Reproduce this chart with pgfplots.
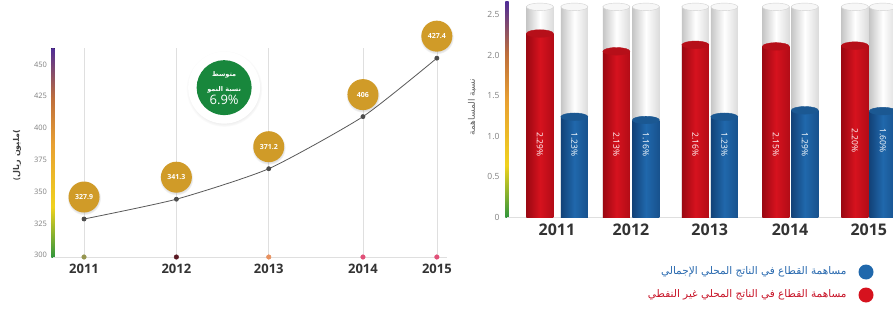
\documentclass[border=0pt]{standalone}
\usepackage{pgfplots}
\pgfplotsset{compat=1.18}
\usepackage{fontspec}
\setmainfont{Open Sans}
\newfontfamily\arabicfont[Script=Arabic]{DejaVu Sans}
\TeXXeTstate=1
\usetikzlibrary{shadows}
\definecolor{gold}{RGB}{208,155,40}
\definecolor{ggreen}{RGB}{24,135,60}
\definecolor{redmain}{RGB}{214,18,30}
\definecolor{reddark}{RGB}{155,8,18}
\definecolor{bluemain}{RGB}{32,104,172}
\definecolor{bluedark}{RGB}{18,66,120}
\definecolor{cgreen}{RGB}{50,150,60}
\definecolor{cyellow}{RGB}{240,210,30}
\definecolor{corange}{RGB}{232,160,50}
\definecolor{cbrown}{RGB}{190,110,60}
\definecolor{cpurple}{RGB}{80,45,150}
\definecolor{legblue}{RGB}{40,105,175}
\definecolor{legred}{RGB}{200,20,40}
\definecolor{dotA}{RGB}{150,150,80}
\definecolor{dotB}{RGB}{90,25,35}
\definecolor{dotC}{RGB}{232,145,95}
\definecolor{dotD}{RGB}{225,80,120}
\pgfdeclareverticalshading{rainbow}{100bp}{color(0bp)=(cgreen); color(25bp)=(cgreen); color(37bp)=(cyellow); color(52bp)=(corange); color(63bp)=(cbrown); color(75bp)=(cpurple); color(100bp)=(cpurple)}
\pgfplotsset{
  tube/.style={ybar, bar width=27pt, bar shift=0pt, draw=none,
    left color=gray!45, right color=gray!28, middle color=white},
  redtube/.style={ybar, bar width=27pt, bar shift=0pt, draw=none,
    left color=reddark, right color=reddark!60!redmain, middle color=redmain},
  bluetube/.style={ybar, bar width=27pt, bar shift=0pt, draw=none,
    left color=bluedark, right color=bluedark!60!bluemain, middle color=bluemain}}
% one cylinder: x, value, bar style, cap fill, cap draw
\newcommand\cyl[5]{%
  \addplot[#3] coordinates {(#1,#2)};
  \addplot[only marks, mark=*, mark size=13.5pt,
    mark options={yscale=0.28, fill=#4, draw=#5, line width=0.4pt}] coordinates {(#1,#2)};}
\newcommand\basedot[2]{%
  \addplot[only marks, mark=*, mark size=2.3pt, mark options={fill=#2, draw=#2}] coordinates {(#1,298.5)};}
\begin{document}
\begin{tikzpicture}[x=1pt,y=1pt]
\path[use as bounding box, fill=white] (0,0) rectangle (893,311);
% ---------------- left chart ----------------
\begin{axis}[at={(53pt,54pt)}, anchor=south west, scale only axis,
  width=394pt, height=209pt,
  xmin=-0.336, xmax=3.93, ymin=298.5, ymax=463, clip=false,
  axis line style={draw=none},
  xtick={0,1,2,3.02,3.82}, xticklabels={2011,2012,2013,2014,2015},
  xtick style={draw=none}, xmajorgrids, grid style={gray!25, line width=0.6pt},
  ytick={300,325,...,450}, ytick pos=left, xtick pos=bottom,
  ytick style={draw=gray!50}, major tick length=2.5pt, tick align=outside,
  yticklabel style={font=\fontsize{7.5}{8}\selectfont, text=gray},
  xticklabel style={font=\fontsize{13}{14}\selectfont\bfseries, text=black!80, yshift=-1pt},
  /pgf/number format/assume math mode=true]
\fill[shading=rainbow] ([xshift=-1.6pt]rel axis cs:0,0) rectangle ([xshift=1.6pt]rel axis cs:0,1);
\draw[gray!25, line width=0.8pt] (rel axis cs:0,0) -- (rel axis cs:1,0);
\addplot[smooth, tension=0.35, color=black!65, line width=0.8pt, mark=*, mark size=2pt,
  mark options={fill=black!70, draw=black!70}]
  coordinates {(0,328.4) (1,344) (2,368) (3.02,409) (3.82,455)};
\addplot[draw=none, mark=none, point meta=explicit symbolic, nodes near coords,
  nodes near coords style={circle, fill=gold, text=white, minimum size=31pt, inner sep=0pt,
    font=\fontsize{7}{8}\selectfont\bfseries, anchor=center, yshift=22pt,
    circular drop shadow={shadow xshift=0pt, shadow yshift=-1pt, shadow scale=1.1, opacity=0.25}}]
  coordinates {(0,328.4)[327.9] (1,344)[341.3] (2,368)[371.2] (3.02,409)[406] (3.82,455)[427.4]};
\basedot{0}{dotA}
\basedot{1}{dotB}
\basedot{2}{dotC}
\basedot{3.02}{dotD}
\basedot{3.82}{dotD}
\node[circle, fill=white, minimum size=72pt,
  circular drop shadow={shadow xshift=0pt, shadow yshift=-1pt, shadow scale=1.06, opacity=0.2}]
  at (axis cs:1.517,431.8) {};
\node[circle, fill=ggreen, minimum size=55pt, inner sep=0pt, text=white, align=center]
  at (axis cs:1.517,431.8)
  {{\arabicfont\bfseries\fontsize{6.5}{8}\selectfont\beginR متوسط\endR}\\[3pt]
   {\arabicfont\bfseries\fontsize{6.5}{8}\selectfont\beginR نسبة النمو\endR}\\[1pt]
   {\fontsize{13}{14}\selectfont 6.9\%}};
\end{axis}
\node[rotate=90, font=\fontsize{8}{9}\selectfont\bfseries, text=black!75] at (17,156)
  {(\arabicfont\beginR مليون ريال\endR)};
% ---------------- right chart ----------------
\begin{axis}[at={(507pt,94pt)}, anchor=south west, scale only axis,
  width=386pt, height=215pt,
  xmin=-0.64, xmax=4.31, ymin=0, ymax=2.66, clip=false,
  axis line style={draw=none},
  xtick={0,0.95,1.96,2.99,4.0}, xticklabels={2011,2012,2013,2014,2015},
  xtick style={draw=none}, ytick style={draw=none},
  ytick={0,0.5,1,1.5,2,2.5}, yticklabels={0,0.5,1.0,1.5,2.0,2.5},
  yticklabel style={font=\fontsize{8.5}{9}\selectfont, text=gray, xshift=-4pt},
  xticklabel style={font=\fontsize{16}{17}\selectfont\bfseries, text=black!80, yshift=-3pt}]
\fill[shading=rainbow] ([xshift=-1.6pt]rel axis cs:0,0) rectangle ([xshift=1.6pt]rel axis cs:0,1);
\draw[gray!25, line width=0.8pt] (rel axis cs:0,0) -- (rel axis cs:1,0);
% empty tubes
\cyl{-0.218}{2.6}{tube}{gray!6}{gray!35}
\cyl{0.224}{2.6}{tube}{gray!6}{gray!35}
\cyl{0.763}{2.6}{tube}{gray!6}{gray!35}
\cyl{1.141}{2.6}{tube}{gray!6}{gray!35}
\cyl{1.776}{2.6}{tube}{gray!6}{gray!35}
\cyl{2.147}{2.6}{tube}{gray!6}{gray!35}
\cyl{2.808}{2.6}{tube}{gray!6}{gray!35}
\cyl{3.179}{2.6}{tube}{gray!6}{gray!35}
\cyl{3.821}{2.6}{tube}{gray!6}{gray!35}
\cyl{4.179}{2.6}{tube}{gray!6}{gray!35}
% non-oil GDP contribution (red)
\cyl{-0.218}{2.27}{redtube}{redmain!85!black}{redmain!85!black}
\cyl{0.763}{2.05}{redtube}{redmain!85!black}{redmain!85!black}
\cyl{1.776}{2.13}{redtube}{redmain!85!black}{redmain!85!black}
\cyl{2.808}{2.11}{redtube}{redmain!85!black}{redmain!85!black}
\cyl{3.821}{2.12}{redtube}{redmain!85!black}{redmain!85!black}
% total GDP contribution (blue)
\cyl{0.224}{1.24}{bluetube}{bluemain!85!black}{bluemain!85!black}
\cyl{1.141}{1.20}{bluetube}{bluemain!85!black}{bluemain!85!black}
\cyl{2.147}{1.24}{bluetube}{bluemain!85!black}{bluemain!85!black}
\cyl{3.179}{1.32}{bluetube}{bluemain!85!black}{bluemain!85!black}
\cyl{4.179}{1.31}{bluetube}{bluemain!85!black}{bluemain!85!black}
% labels
\addplot[draw=none, mark=none, point meta=explicit symbolic, nodes near coords,
  nodes near coords style={anchor=center, rotate=-90, text=white, font=\fontsize{8.5}{9}\selectfont}]
  coordinates {(-0.218,0.9)[2.29\%] (0.224,0.9)[1.23\%] (0.763,0.9)[2.13\%] (1.141,0.9)[1.16\%]
    (1.776,0.9)[2.16\%] (2.147,0.9)[1.23\%] (2.808,0.9)[2.15\%] (3.179,0.9)[1.29\%]
    (3.821,0.95)[2.20\%] (4.179,0.95)[1.60\%]};
\end{axis}
\node[rotate=90, font=\arabicfont\fontsize{9}{10}\selectfont, text=black!60] at (472,204)
  {\beginR نسبة المساهمة\endR};
% legend
\fill[bluemain] (866,39) circle (7.5);
\fill[redmain] (866,16) circle (7.5);
\node[anchor=east, text=legblue, font=\arabicfont\fontsize{10.5}{11}\selectfont] at (850,39)
  {\beginR مساهمة القطاع في الناتج المحلي الإجمالي\endR};
\node[anchor=east, text=legred, font=\arabicfont\fontsize{10.5}{11}\selectfont] at (850,16)
  {\beginR مساهمة القطاع في الناتج المحلي غير النفطي\endR};
\end{tikzpicture}
\end{document}
